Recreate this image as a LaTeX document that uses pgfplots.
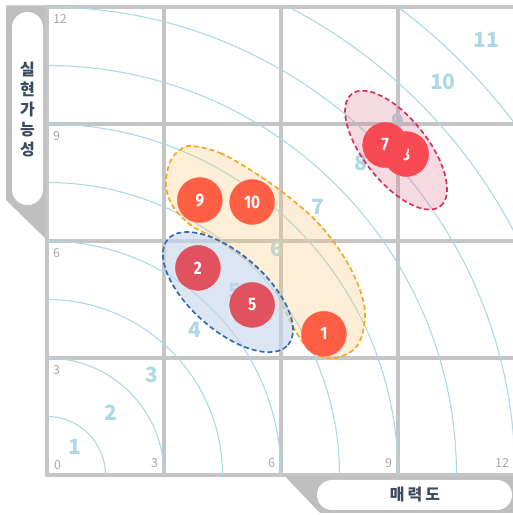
\documentclass[border=0pt]{standalone}
\usepackage{pgfplots}
\pgfplotsset{compat=1.18}
\usetikzlibrary{shapes.geometric}
\usepackage{fontspec}
\setmainfont{Noto Sans}
\newfontfamily\krfont{Noto Sans CJK KR}
\newfontfamily\numfont[FakeStretch=0.85]{Fira Sans}
\definecolor{gridgray}{HTML}{C5C5C5}
\definecolor{framegray}{HTML}{BFBFBF}
\definecolor{tickgray}{HTML}{A8A8A8}
\definecolor{arcblue}{HTML}{ADD8E6}
\definecolor{labeldark}{HTML}{3B4A5E}
\definecolor{orC}{HTML}{FF5F45}
\definecolor{crC}{HTML}{E0525E}
\definecolor{rdC}{HTML}{F84A52}
\definecolor{orFill}{HTML}{F9C97A}
\definecolor{orLine}{HTML}{F5A623}
\definecolor{blFill}{HTML}{C4D6EA}
\definecolor{blLine}{HTML}{2E6DB4}
\definecolor{rdFill}{HTML}{E07A95}
\definecolor{rdLine}{HTML}{D8315B}
\tikzset{arclabel/.style={text=arcblue, font=\krfont\bfseries\fontsize{21}{24}\selectfont}}
\begin{document}
\begin{tikzpicture}[x=1pt,y=1pt]
\useasboundingbox (0,0) rectangle (513,515);
% frames
\fill[framegray] (6,509.5) -- (47,509.5) -- (47,275) -- (6,315) -- cycle;
\fill[white, rounded corners=15.5pt] (12,310) rectangle (43,503);
\node[text=labeldark, font=\krfont\bfseries\fontsize{16}{20}\selectfont, align=center] at (27.5,405) {실\\현\\가\\능\\성};
\fill[framegray] (282,41.75) -- (520,41.75) -- (520,2) -- (320,2) -- cycle;
\fill[white, rounded corners=15pt] (317,5) rectangle (512,35);
\node[text=labeldark, font=\krfont\bfseries\fontsize{16}{20}\selectfont] at (415,20) {매\hspace{3pt}력\hspace{3pt}도};
\begin{axis}[
  at={(47pt,40pt)}, anchor=south west,
  width=468pt, height=468pt, scale only axis,
  xmin=0, xmax=12, ymin=0, ymax=12,
  xtick={3,6,9,12}, ytick={3,6,9,12},
  grid=major,
  major grid style={draw=gridgray, line width=3.5pt},
  axis line style={draw=gridgray, line width=3.5pt},
  major tick length=0pt,
  /pgf/number format/assume math mode=true,
  tick label style={font=\krfont\fontsize{12.5}{14}\selectfont, text=tickgray},
  xticklabel style={anchor=south east, xshift=-2.5pt, yshift=3.5pt},
  yticklabel style={anchor=north west, xshift=2.5pt, yshift=-3.5pt},
]
% arcs
\draw[arcblue, line width=1.1pt] (axis cs:0,0) circle [radius=58.5pt];
\draw[arcblue, line width=1.1pt] (axis cs:0,0) circle [radius=117pt];
\draw[arcblue, line width=1.1pt] (axis cs:0,0) circle [radius=175.5pt];
\draw[arcblue, line width=1.1pt] (axis cs:0,0) circle [radius=234pt];
\draw[arcblue, line width=1.1pt] (axis cs:0,0) circle [radius=292.5pt];
\draw[arcblue, line width=1.1pt] (axis cs:0,0) circle [radius=351pt];
\draw[arcblue, line width=1.1pt] (axis cs:0,0) circle [radius=409.5pt];
\draw[arcblue, line width=1.1pt] (axis cs:0,0) circle [radius=468pt];
\draw[arcblue, line width=1.1pt] (axis cs:0,0) circle [radius=526.5pt];
\draw[arcblue, line width=1.1pt] (axis cs:0,0) circle [radius=585pt];
% arc labels
\node[arclabel] at (axis cs:0.72,0.72) {1};
\node[arclabel] at (axis cs:1.64,1.59) {2};
\node[arclabel] at (axis cs:2.69,2.56) {3};
\node[arclabel] at (axis cs:3.79,3.72) {4};
\node[arclabel] at (axis cs:4.82,4.72) {5};
\node[arclabel] at (axis cs:5.90,5.79) {6};
\node[arclabel] at (axis cs:6.95,6.87) {7};
\node[arclabel] at (axis cs:8.04,8.00) {8};
\node[arclabel] at (axis cs:9.00,9.05) {9};
\node[arclabel] at (axis cs:10.15,10.08) {10};
\node[arclabel] at (axis cs:11.26,11.15) {11};
\node[anchor=south west, xshift=3.5pt, yshift=1.7pt, text=tickgray, font=\krfont\fontsize{12.5}{14}\selectfont] at (axis cs:0,0) {0};
% group outlines
\draw[fill=orFill, fill opacity=0.3, draw=orLine, draw opacity=1, line width=1.7pt, dash pattern=on 5pt off 3pt]
  plot[smooth cycle, tension=0.6] coordinates {
  (axis cs:3.718,8.436) (axis cs:4.436,8.256) (axis cs:5.256,7.795) (axis cs:6.103,7.205)
  (axis cs:6.949,6.462) (axis cs:7.615,5.590) (axis cs:8.026,4.744) (axis cs:8.154,4.026)
  (axis cs:7.949,3.308) (axis cs:7.385,3.000) (axis cs:6.795,3.154) (axis cs:6.385,3.667)
  (axis cs:6.077,4.282) (axis cs:5.769,4.897) (axis cs:5.256,5.410) (axis cs:4.359,6.026)
  (axis cs:3.718,6.385) (axis cs:3.256,6.846) (axis cs:3.051,7.410) (axis cs:3.154,8.026)
  (axis cs:3.410,8.333)};
\node[ellipse, inner sep=0pt, minimum width=160pt, minimum height=76pt, rotate=-41.4, fill=blFill, fill opacity=0.6, draw=blLine, draw opacity=1, line width=1.7pt, dash pattern=on 5pt off 3pt] at (axis cs:4.64,4.69) {};
\node[ellipse, inner sep=0pt, minimum width=143pt, minimum height=64pt, rotate=-51.6, fill=rdFill, fill opacity=0.28, draw=rdLine, draw opacity=1, line width=1.7pt, dash pattern=on 5pt off 3pt] at (axis cs:8.95,8.33) {};
% circles
\addplot[only marks, mark=*, mark size=22.5pt, color=orC, mark options={draw=orC, fill=orC},
  nodes near coords, point meta=explicit symbolic,
  every node near coord/.append style={anchor=center, text=white, font=\numfont\bfseries\fontsize{18}{20}\selectfont}]
  table[meta=label, row sep=\\] {x y label\\ 3.92 7.05 9\\ 5.26 7.00 10\\ 7.10 3.62 1\\};
\addplot[only marks, mark=*, mark size=22.5pt, color=crC, mark options={draw=crC, fill=crC},
  nodes near coords, point meta=explicit symbolic,
  every node near coord/.append style={anchor=center, text=white, font=\numfont\bfseries\fontsize{18}{20}\selectfont}]
  table[meta=label, row sep=\\] {x y label\\ 3.87 5.31 2\\ 5.26 4.36 5\\};
\addplot[only marks, mark=*, mark size=22.5pt, color=rdC, mark options={draw=rdC, fill=rdC},
  nodes near coords, point meta=explicit symbolic,
  every node near coord/.append style={anchor=center, text=white, font=\numfont\bfseries\fontsize{18}{20}\selectfont}]
  table[meta=label, row sep=\\] {x y label\\ 9.21 8.23 3\\};
\addplot[only marks, mark=*, mark size=22.5pt, color=rdC, mark options={draw=rdC, fill=rdC},
  nodes near coords, point meta=explicit symbolic,
  every node near coord/.append style={anchor=center, text=white, font=\numfont\bfseries\fontsize{18}{20}\selectfont}]
  table[meta=label, row sep=\\] {x y label\\ 8.67 8.46 7\\};
\end{axis}
\end{tikzpicture}
\end{document}
